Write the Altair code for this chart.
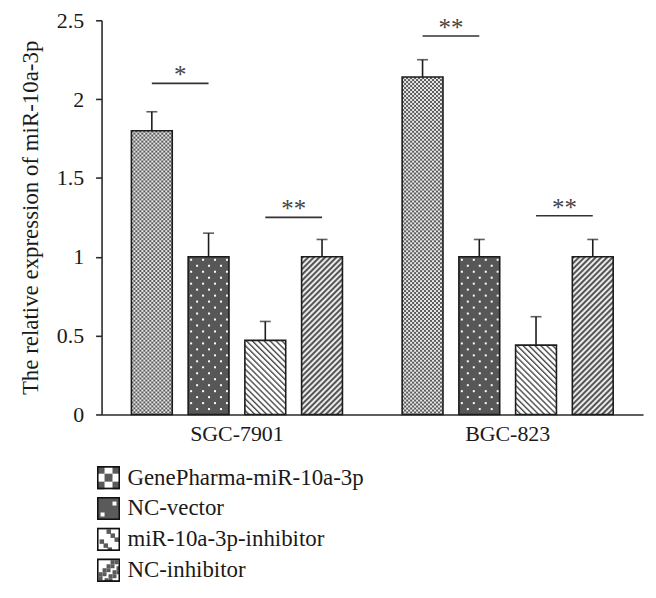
import altair as alt
import pandas as pd
from urllib.parse import quote

# ---------------- data ----------------
groups = ["SGC-7901", "BGC-823"]
conditions = ["GenePharma-miR-10a-3p", "NC-vector", "miR-10a-3p-inhibitor", "NC-inhibitor"]
sgc_means = [1.80, 1.00, 0.47, 1.00]
sgc_upper = [1.92, 1.15, 0.59, 1.11]
bgc_means = [2.14, 1.00, 0.44, 1.00]
bgc_upper = [2.25, 1.11, 0.62, 1.11]

sig_group = ["SGC-7901", "SGC-7901", "BGC-823", "BGC-823"]
sig_from = ["GenePharma-miR-10a-3p", "miR-10a-3p-inhibitor", "GenePharma-miR-10a-3p", "miR-10a-3p-inhibitor"]
sig_to = ["NC-vector", "NC-inhibitor", "NC-vector", "NC-inhibitor"]
sig_y = [2.10, 1.25, 2.40, 1.26]
sig_label = ["*", "**", "**", "**"]

y_ticks = [0, 0.5, 1, 1.5, 2, 2.5]

# ---------------- pattern images (style only) ----------------
def svg_url(s):
    return "data:image/svg+xml;charset=utf-8," + quote(s)

def fill_svg(pattern):
    return svg_url(
        "<svg xmlns='http://www.w3.org/2000/svg' width='100%' height='100%'>"
        "<defs>" + pattern + "</defs>"
        "<rect x='0' y='0' width='100%' height='100%' fill='url(#p)'/></svg>"
    )

pat_checker = (
    "<pattern id='p' patternUnits='userSpaceOnUse' width='4' height='4'>"
    "<rect width='4' height='4' fill='#e8e8e8'/>"
    "<rect width='2' height='2' fill='#5a5a5a'/>"
    "<rect x='2' y='2' width='2' height='2' fill='#5a5a5a'/></pattern>"
)
pat_dots = (
    "<pattern id='p' patternUnits='userSpaceOnUse' width='12' height='12'>"
    "<rect width='12' height='12' fill='#575757'/>"
    "<rect x='2' y='2' width='2' height='2' fill='#ffffff'/>"
    "<rect x='8' y='8' width='2' height='2' fill='#ffffff'/></pattern>"
)
pat_back = (
    "<pattern id='p' patternUnits='userSpaceOnUse' width='4.2' height='4.2' patternTransform='rotate(-45)'>"
    "<rect width='4.2' height='4.2' fill='#ffffff'/>"
    "<rect width='1.4' height='4.2' fill='#4a4a4a'/></pattern>"
)
pat_fwd = (
    "<pattern id='p' patternUnits='userSpaceOnUse' width='4' height='4' patternTransform='rotate(45)'>"
    "<rect width='4' height='4' fill='#f2f2f2'/>"
    "<rect width='2.1' height='4' fill='#555555'/></pattern>"
)
bar_urls = [fill_svg(pat_checker), fill_svg(pat_dots), fill_svg(pat_back), fill_svg(pat_fwd)]

def swatch_svg(inner, bg):
    return svg_url(
        "<svg xmlns='http://www.w3.org/2000/svg' width='24' height='24' viewBox='0 0 24 24'>"
        "<rect width='24' height='24' fill='" + bg + "'/>" + inner +
        "<rect x='1' y='1' width='22' height='22' fill='none' stroke='#111' stroke-width='2'/></svg>"
    )

def rects(cells, size, color):
    return "".join(
        "<rect x='%g' y='%g' width='%g' height='%g' fill='%s'/>" % (cx, cy, size, size, color)
        for cx, cy in cells
    )

sw_checker = swatch_svg(rects([(0, 0), (16, 0), (8, 8), (0, 16), (16, 16)], 8, "#5a5a5a"), "#ffffff")
sw_dots = swatch_svg(rects([(16, 5), (4, 16)], 4, "#ffffff"), "#5a5a5a")
sw_back = swatch_svg(rects([(10, 2), (14, 6), (18, 10), (3, 12), (7, 16), (11, 20)], 4.5, "#5a5a5a"), "#ffffff")
sw_fwd = swatch_svg(
    rects([(14, 2), (10, 6), (6, 10), (2, 14), (18, 2), (14, 6), (10, 10), (6, 14), (2, 18),
           (20, 8), (16, 12), (12, 16), (8, 20), (20, 12), (16, 16), (12, 20)], 4, "#5a5a5a"),
    "#ffffff")
swatch_urls = [sw_checker, sw_dots, sw_back, sw_fwd]

fallback_colors = ["#9d9d9d", "#5a5a5a", "#cccccc", "#a0a0a0"]

# ---------------- tables ----------------
rows = []
for g, means, ups in [(groups[0], sgc_means, sgc_upper), (groups[1], bgc_means, bgc_upper)]:
    for c, m, u, url in zip(conditions, means, ups, bar_urls):
        rows.append({"group": g, "condition": c, "value": m, "upper": u, "img": url})
bars_df = pd.DataFrame(rows)

line_rows = []
text_rows = []
for i, (g, a, b, yv, lab) in enumerate(zip(sig_group, sig_from, sig_to, sig_y, sig_label)):
    line_rows.append({"id": i, "group": g, "condition": a, "y": yv})
    line_rows.append({"id": i, "group": g, "condition": b, "y": yv})
    text_rows.append({"group": g, "condition": a, "y": yv, "label": lab})
line_df = pd.DataFrame(line_rows)
text_df = pd.DataFrame(text_rows)

legend_df = pd.DataFrame({"condition": conditions, "swatch": swatch_urls})

# ---------------- encodings ----------------
FONT = "Liberation Serif"

x_enc = alt.X("group:N", sort=groups,
              scale=alt.Scale(domain=groups, paddingInner=0, paddingOuter=0),
              axis=alt.Axis(title=None, labelAngle=0, ticks=False, labelPadding=9,
                            labelFontSize=22))
xo_enc = alt.XOffset("condition:N", sort=conditions,
                     scale=alt.Scale(domain=conditions, paddingInner=0.28, paddingOuter=0.526))
y_scale = alt.Scale(domain=[0, 2.5], nice=False)
y_axis = alt.Axis(values=y_ticks, format="~g", grid=False, tickSize=6, labelPadding=12,
                  title="The relative expression of miR-10a-3p", titlePadding=14,
                  titleFontSize=23, labelFontSize=22)

base = alt.Chart(bars_df)

fallback = base.mark_bar(strokeWidth=0).encode(
    x=x_enc, xOffset=xo_enc,
    y=alt.Y("value:Q", scale=y_scale, axis=y_axis),
    color=alt.Color("condition:N", sort=conditions,
                    scale=alt.Scale(domain=conditions, range=fallback_colors), legend=None),
)

pattern = base.mark_image(aspect=False).encode(
    x=x_enc, xOffset=xo_enc,
    y=alt.Y("value:Q", scale=y_scale),
    y2=alt.datum(0),
    url="img:N",
)

outline = base.mark_bar(fillOpacity=0, stroke="#1c1c1c", strokeWidth=1.6).encode(
    x=x_enc, xOffset=xo_enc,
    y=alt.Y("value:Q", scale=y_scale),
)

err = base.mark_rule(color="#1c1c1c", strokeWidth=1.6).encode(
    x=x_enc, xOffset=xo_enc,
    y=alt.Y("value:Q", scale=y_scale),
    y2="upper:Q",
)

caps = base.mark_tick(color="#1c1c1c", thickness=1.6, size=11).encode(
    x=x_enc, xOffset=xo_enc,
    y=alt.Y("upper:Q", scale=y_scale),
)

sig_lines = alt.Chart(line_df).mark_line(color="#333333", strokeWidth=1.6).encode(
    x=x_enc, xOffset=xo_enc,
    y=alt.Y("y:Q", scale=y_scale),
    detail="id:N",
)

sig_text = alt.Chart(text_df).mark_text(
    font=FONT, fontSize=25, color="#444444", baseline="alphabetic", dx=28.5, dy=0
).encode(
    x=x_enc, xOffset=xo_enc,
    y=alt.Y("y:Q", scale=y_scale),
    text="label:N",
)

main = alt.layer(fallback, pattern, outline, err, caps, sig_lines, sig_text).properties(
    width=544, height=396
)

leg_y = alt.Y("condition:N", sort=conditions, axis=None,
              scale=alt.Scale(domain=conditions, paddingInner=0.226, paddingOuter=0.113))
leg_img = alt.Chart(legend_df).mark_image(aspect=False, width=24, height=24).encode(
    x=alt.value(7), y=leg_y, url="swatch:N"
)
leg_txt = alt.Chart(legend_df).mark_text(
    font=FONT, fontSize=23, color="#1a1a1a", align="left", baseline="middle"
).encode(x=alt.value(26), y=leg_y, text="condition:N")

legend = alt.layer(leg_img, leg_txt).properties(width=400, height=124)

chart = alt.vconcat(main, legend, spacing=18).properties(
    padding={"left": 11, "top": 0, "right": 5, "bottom": 5}
).configure_axis(
    labelFont=FONT, titleFont=FONT, titleFontWeight="normal",
    labelColor="#1a1a1a", titleColor="#1a1a1a",
    domainColor="#2a2a2a", domainWidth=1.6, tickColor="#2a2a2a", tickWidth=1.6,
).configure_view(stroke=None)

chart.save("out.html", embed_options={"renderer": "svg", "actions": False})
